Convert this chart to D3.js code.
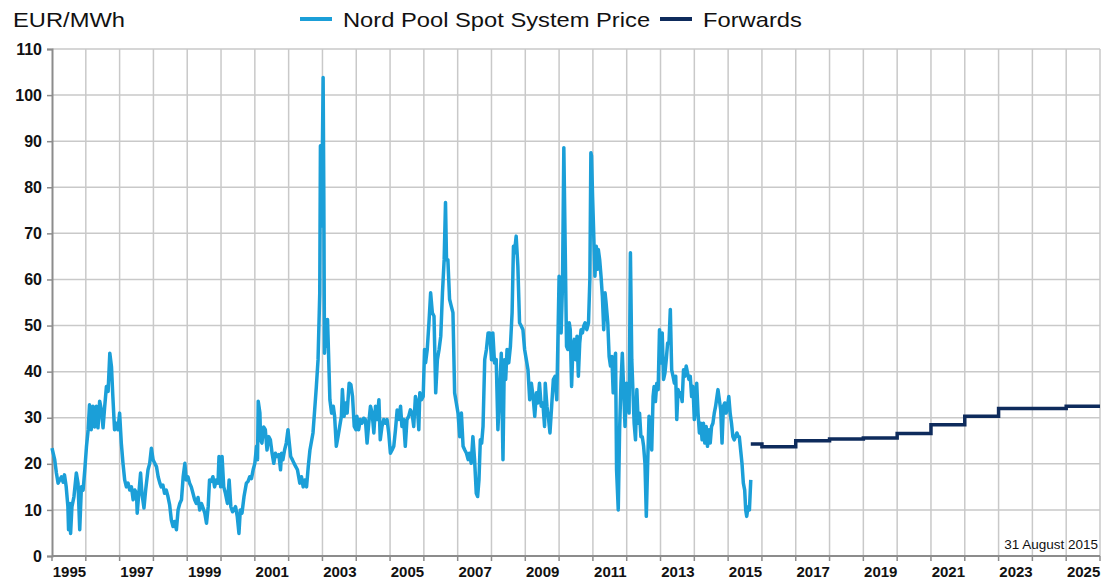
<!DOCTYPE html>
<html>
<head>
<meta charset="utf-8">
<script src="https://cdn.jsdelivr.net/npm/d3@7"></script>
<style>
  html, body { margin: 0; padding: 0; background: #fff; }
  svg { display: block; font-family: Arial, "Liberation Sans", sans-serif; }
</style>
</head>
<body>
<svg id="chart" width="1106" height="580"></svg>
<script>
// ---- Data ----
const spotYears = [
  1995.00,1995.08,1995.13,1995.18,1995.28,1995.33,1995.37,1995.42,1995.47,1995.49,1995.53,1995.55,1995.59,1995.65,1995.72,1995.77,1995.82,1995.87,1995.92,1995.97,
  1996.02,1996.07,1996.11,1996.16,1996.21,1996.26,1996.31,1996.36,1996.41,1996.46,1996.51,1996.56,1996.61,1996.66,1996.71,1996.76,1996.80,1996.85,1996.90,1996.95,
  1997.00,1997.05,1997.10,1997.15,1997.20,1997.25,1997.30,1997.35,1997.40,1997.45,1997.50,1997.52,1997.56,1997.62,1997.66,1997.72,1997.77,1997.84,1997.89,1997.94,1997.99,
  1998.04,1998.09,1998.14,1998.19,1998.23,1998.28,1998.33,1998.38,1998.43,1998.48,1998.53,1998.58,1998.63,1998.68,1998.73,1998.78,1998.83,1998.88,1998.93,1998.97,
  1999.02,1999.07,1999.12,1999.17,1999.22,1999.27,1999.32,1999.37,1999.42,1999.47,1999.52,1999.57,1999.62,1999.66,1999.71,1999.76,1999.81,1999.86,1999.91,1999.94,1999.99,
  2000.03,2000.08,2000.13,2000.19,2000.24,2000.29,2000.34,2000.38,2000.43,2000.48,2000.53,2000.57,2000.62,2000.68,2000.75,2000.80,2000.85,2000.90,2000.95,
  2001.00,2001.05,2001.08,2001.10,2001.15,2001.17,2001.21,2001.26,2001.31,2001.36,2001.41,2001.46,2001.51,2001.56,2001.61,2001.66,2001.71,2001.76,2001.79,2001.83,2001.88,2001.93,2001.98,
  2002.02,2002.06,2002.11,2002.16,2002.21,2002.26,2002.33,2002.38,2002.43,2002.48,2002.53,2002.58,2002.63,2002.72,2002.77,2002.82,2002.87,2002.92,2002.94,2002.97,
  2003.00,2003.02,2003.04,2003.06,2003.09,2003.12,2003.15,2003.18,2003.22,2003.27,2003.32,2003.36,2003.41,2003.46,2003.51,2003.56,2003.59,2003.64,2003.68,2003.73,2003.79,2003.84,2003.89,2003.94,2003.99,
  2004.02,2004.07,2004.12,2004.17,2004.22,2004.27,2004.32,2004.37,2004.42,2004.47,2004.52,2004.57,2004.62,2004.67,2004.71,2004.76,2004.81,2004.86,2004.91,2004.96,
  2005.01,2005.06,2005.11,2005.16,2005.21,2005.26,2005.31,2005.35,2005.40,2005.45,2005.50,2005.55,2005.60,2005.65,2005.70,2005.75,2005.80,2005.85,2005.88,2005.93,2005.98,
  2006.02,2006.05,2006.10,2006.15,2006.20,2006.25,2006.30,2006.35,2006.40,2006.45,2006.50,2006.55,2006.60,2006.64,2006.67,2006.71,2006.76,2006.81,2006.86,2006.91,2006.96,
  2007.01,2007.06,2007.11,2007.16,2007.21,2007.26,2007.31,2007.35,2007.40,2007.45,2007.50,2007.55,2007.59,2007.63,2007.67,2007.71,2007.75,2007.80,2007.85,2007.90,2007.95,
  2008.00,2008.04,2008.09,2008.14,2008.19,2008.24,2008.29,2008.34,2008.38,2008.42,2008.46,2008.51,2008.56,2008.61,2008.65,2008.68,2008.73,2008.78,2008.83,2008.88,2008.93,2008.98,
  2009.03,2009.08,2009.13,2009.18,2009.23,2009.28,2009.33,2009.37,2009.42,2009.47,2009.52,2009.57,2009.59,2009.64,2009.69,2009.73,2009.78,2009.83,2009.88,2009.93,2009.96,
  2010.00,2010.04,2010.06,2010.10,2010.14,2010.18,2010.22,2010.26,2010.30,2010.33,2010.37,2010.41,2010.45,2010.49,2010.53,2010.57,2010.61,2010.65,2010.69,2010.73,2010.77,2010.82,2010.87,2010.91,2010.94,2010.96,2010.99,
  2011.02,2011.06,2011.10,2011.13,2011.16,2011.20,2011.24,2011.28,2011.32,2011.36,2011.39,2011.44,2011.48,2011.52,2011.56,2011.60,2011.63,2011.67,2011.70,2011.75,2011.79,2011.83,2011.87,2011.91,2011.95,2011.99,
  2012.03,2012.07,2012.11,2012.15,2012.19,2012.22,2012.26,2012.30,2012.34,2012.38,2012.42,2012.46,2012.50,2012.54,2012.58,2012.62,2012.66,2012.70,2012.74,2012.78,2012.81,2012.85,2012.89,2012.93,2012.97,
  2013.01,2013.05,2013.09,2013.13,2013.17,2013.21,2013.25,2013.29,2013.33,2013.37,2013.41,2013.45,2013.48,2013.52,2013.56,2013.60,2013.64,2013.68,2013.72,2013.76,2013.80,2013.84,2013.88,2013.92,2013.96,
  2014.00,2014.04,2014.07,2014.11,2014.15,2014.19,2014.23,2014.27,2014.31,2014.35,2014.39,2014.43,2014.47,2014.51,2014.55,2014.59,2014.63,2014.67,2014.70,2014.74,2014.78,2014.82,2014.86,2014.90,2014.94,2014.98,
  2015.02,2015.06,2015.10,2015.14,2015.18,2015.22,2015.26,2015.30,2015.33,2015.37,2015.41,2015.45,2015.49,2015.52,2015.55,2015.59,2015.63,2015.67
];
const spotPrices = [
  23.4,20.9,18,15.8,17.2,16,17.6,15,10.7,5.7,11.4,4.9,10.7,12.9,18,15.8,5.7,15,14.3,18.7,
  23.8,27.4,32.8,27.4,32.5,28,32.5,27.8,33.6,31.7,27.8,32.5,36.8,35.7,44,41,34.6,27.4,28.8,27.4,
  31,24.5,20.1,16.5,15,15.8,14.3,15,12.2,14.3,13.6,9.3,12.9,18,13.6,10.4,14.3,18.7,20.1,23.4,20.9,
  20.1,19.4,17.2,15.8,15,15.4,13.6,14.3,12.9,11.1,7.8,6.4,7.5,5.7,10,11.4,12.2,17.2,20.1,16.5,
  17.2,15.8,15,13.6,12.2,11.4,12.7,10,11.4,10.4,9.3,7.1,10.7,16.5,16.2,17.2,15,16.5,15.8,21.6,15,
  21.6,15,13.6,11.4,16.5,10.7,9.6,10,10.7,8.6,4.9,10,9.3,12.9,15.8,16.2,17.2,16.8,18.7,
  20.1,23.8,20.9,33.6,31,25.2,24.5,28,27.4,23,25.9,25.2,22.3,20.1,22.3,21.6,22,18.7,22.3,20.9,23,24.5,27.4,
  24.5,21.6,20.9,20.1,19.4,18.7,15.8,17.2,15,16.5,15,19.4,23,26.7,31.7,36.8,42.6,57,89,71.6,
  89,103.8,78.8,44,51.3,45.5,51.3,44,33.9,31,32.5,30.3,23.8,25.9,28.1,30.3,36.1,30.3,33.2,31,37.5,37.2,34.6,28.1,27.4,
  30.3,27.4,29.6,28.8,29.9,29.6,24.5,28.8,32.5,31,26.7,32.5,29.6,33.9,25.2,28.1,29.6,28.8,29.6,26.7,
  22.3,23,23.8,27.4,31.7,29.6,32.5,28.1,29.6,23.8,29.6,30.3,31.7,31,28.1,34.6,33.2,27.4,35.4,33.9,34.6,
  44.8,41.9,44.8,50.6,57.1,52.8,52,35.4,42.6,44.8,47.7,57.1,64.3,76.7,64.3,64.3,55.7,54.2,52.8,35.4,33.2,
  31,25.9,31,23.8,23,22.3,20.9,22.3,20.1,25.9,20.9,13.6,12.9,16.5,25.2,24.5,28.1,42.6,44.8,48.4,48.4,
  42.6,48.4,41.9,42.6,27.4,35.4,44,20.9,42.6,38.3,44.8,41.9,45.5,52.8,67.2,65.8,69.4,62.9,50.6,49.9,49.1,44.8,
  42.6,40.4,33.9,37.5,34.6,30.3,35.4,33.2,37.5,32.5,33.2,28.1,37.5,32.5,29.6,26.7,32.5,38.3,39,33.9,44.8,
  60.7,57.8,48.4,58.6,88.6,67.2,45.5,44.8,50.6,49.1,36.8,45.5,47,42.6,47.7,39,46.2,49.1,48.4,49.9,50.6,49.1,50.6,60,87.5,86.8,78.1,
  70.9,60.7,67.2,62.2,66.5,64.3,60.7,56.4,49.1,57.1,54.9,50.6,43.3,41.2,43.3,35.4,41.9,44,18.7,10,27.4,37.5,44,36.1,28.1,37.5,
  36.8,31,65.8,42.6,34.6,28.8,25.2,36.1,28.8,31,25.9,25.9,23.8,20.1,8.6,20.1,30.3,29.6,23,34.6,36.8,33.5,37.5,36.1,49.1,
  41.9,48.4,38.3,39.7,42.6,46.2,46.2,53.5,40.4,39,37.5,39,29.6,36.1,34.6,35.4,33.5,40.4,39,41.2,39.7,38.3,39,34.6,36.8,
  29.6,32.5,37.5,31,26.7,28.8,25.2,28.8,24.5,28.1,23.8,27.4,24.5,28.1,28.8,31,32.5,34.6,36.1,33.9,31.7,24.5,32.5,33.2,31,32.5,
  34.6,31,28.8,25.9,25.2,25.9,26.7,25.9,25.9,23,20.1,15.8,14.3,10,8.6,10.7,10,16.5
];
const forwardYears  = [2015.67, 2016, 2017, 2018, 2019, 2020, 2021, 2022, 2023, 2024, 2025, 2026];
const forwardPrices = [24.3, 23.7, 25.0, 25.4, 25.6, 26.6, 28.5, 30.3, 32.0, 32.0, 32.5, 32.5];
const yTickValues = [0, 10, 20, 30, 40, 50, 60, 70, 80, 90, 100, 110];
const xLabelYears = [1995, 1997, 1999, 2001, 2003, 2005, 2007, 2009, 2011, 2013, 2015, 2017, 2019, 2021, 2023, 2025];
const xDomain = [1995, 2026];
const seriesNames = ["Nord Pool Spot System Price", "Forwards"];
const unitLabel = "EUR/MWh";
const dateNote = "31 August 2015";

// ---- Layout / style ----
const plot = { left: 52, right: 1100, top: 49, bottom: 556 };
const spotColor = "#1b9fd8";
const fwdColor = "#0e2b5c";
const gridColor = "#c9c9c9";
const axisColor = "#8c8c8c";
const font = "Arial, 'Liberation Sans', sans-serif";

const svg = d3.select("#chart");
const x = d3.scaleLinear().domain(xDomain).range([plot.left, plot.right]);
const y = d3.scaleLinear().domain([0, 110]).range([plot.bottom, plot.top]);

// Grid: vertical lines at every year boundary
const yearLines = d3.range(xDomain[0] + 1, xDomain[1] + 1);
svg.append("g").selectAll("line").data(yearLines).join("line")
  .attr("x1", d => x(d)).attr("x2", d => x(d))
  .attr("y1", plot.top).attr("y2", plot.bottom)
  .attr("stroke", gridColor).attr("stroke-width", 1.5);

// Grid: horizontal lines
svg.append("g").selectAll("line").data(yTickValues.filter(d => d > 0)).join("line")
  .attr("x1", plot.left).attr("x2", plot.right)
  .attr("y1", d => y(d)).attr("y2", d => y(d))
  .attr("stroke", gridColor).attr("stroke-width", 1.5);

// Y axis
const yAxis = d3.axisLeft(y).tickValues(yTickValues).tickSize(5).tickPadding(5);
const gy = svg.append("g").attr("transform", `translate(${plot.left},0)`).call(yAxis);
gy.select(".domain").attr("stroke", axisColor).attr("stroke-width", 2);
gy.selectAll(".tick line").attr("stroke", axisColor).attr("stroke-width", 1.5);
gy.selectAll(".tick text").attr("font-size", 16).attr("font-weight", "bold")
  .attr("font-family", font).attr("fill", "#111");

// X axis (labels centred in the year band)
const xAxis = d3.axisBottom(x).tickValues(xLabelYears.map(d => d + 0.5))
  .tickSize(0).tickPadding(10).tickFormat(d => String(Math.floor(d)));
const gx = svg.append("g").attr("transform", `translate(0,${plot.bottom})`).call(xAxis);
gx.select(".domain").remove();
gx.selectAll(".tick text").attr("font-size", 15).attr("font-weight", "bold")
  .attr("font-family", font).attr("fill", "#111");
svg.append("line").attr("x1", plot.left).attr("x2", plot.right)
  .attr("y1", plot.bottom).attr("y2", plot.bottom)
  .attr("stroke", axisColor).attr("stroke-width", 2);
svg.append("g").selectAll("line").data(d3.range(xDomain[0], xDomain[1] + 1)).join("line")
  .attr("x1", d => x(d)).attr("x2", d => x(d))
  .attr("y1", plot.bottom).attr("y2", plot.bottom + 5)
  .attr("stroke", axisColor).attr("stroke-width", 1.5);

// Spot line
const spotData = spotYears.map((t, i) => [t, spotPrices[i]]);
svg.append("path").datum(spotData)
  .attr("fill", "none").attr("stroke", spotColor).attr("stroke-width", 3.5)
  .attr("stroke-linejoin", "round")
  .attr("d", d3.line().x(d => x(d[0])).y(d => y(d[1])));

// Forwards step line
const fwdData = forwardYears.map((t, i) => [t, forwardPrices[i]]);
svg.append("path").datum(fwdData)
  .attr("fill", "none").attr("stroke", fwdColor).attr("stroke-width", 3.5)
  .attr("d", d3.line().curve(d3.curveStepAfter).x(d => x(d[0])).y(d => y(d[1])));

// Unit label (slightly wide lettering as in the reference)
svg.append("text").attr("transform", "translate(13,27) scale(1.13,1)")
  .attr("font-size", 21).attr("fill", "#111").text(unitLabel);

// Legend
const legendItems = [
  { name: seriesNames[0], color: spotColor, x: 300 },
  { name: seriesNames[1], color: fwdColor, x: 660 }
];
const legend = svg.append("g");
legendItems.forEach(it => {
  legend.append("line").attr("x1", it.x).attr("x2", it.x + 32)
    .attr("y1", 19).attr("y2", 19).attr("stroke", it.color).attr("stroke-width", 4);
  legend.append("text").attr("transform", `translate(${it.x + 43},27) scale(1.13,1)`)
    .attr("font-size", 21).attr("fill", "#111").text(it.name);
});

// Date note
svg.append("text").attr("x", 1098).attr("y", 549).attr("text-anchor", "end")
  .attr("font-size", 13.5).attr("fill", "#111").text(dateNote);
</script>
</body>
</html>
